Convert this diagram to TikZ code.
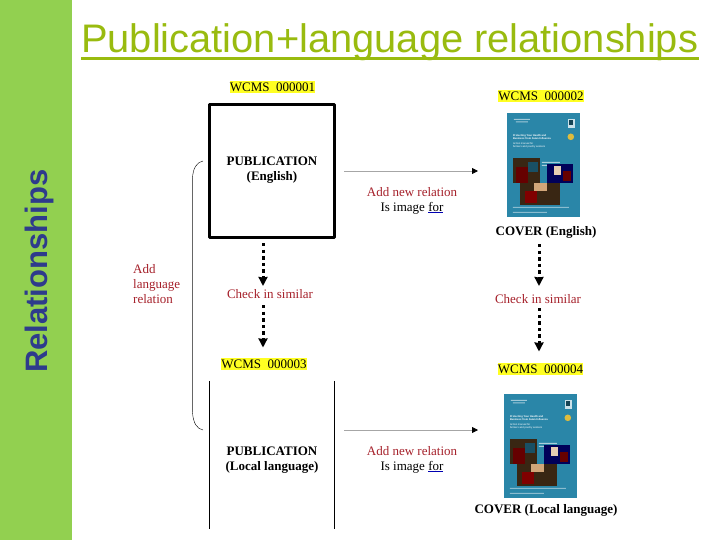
\documentclass[tikz,border=0pt]{standalone}
\usepackage{fontspec}
\setmainfont{Liberation Serif}
\newfontfamily\arialfont{Liberation Sans}
\usetikzlibrary{arrows.meta}
\definecolor{barcol}{HTML}{92D050}
\definecolor{titlecol}{HTML}{99BB0F}
\definecolor{sidecol}{HTML}{2E3B8C}
\definecolor{addcol}{HTML}{A5202A}
\definecolor{wcmscol}{HTML}{FFFF22}
\definecolor{coverbg}{HTML}{2A86A8}
\newcommand{\lblfont}{\fontsize{13}{15}\selectfont}
\newcommand{\tinyfont}{\fontsize{2.6}{3}\selectfont}
\tikzset{
	wcms/.style={fill=wcmscol,inner xsep=0.2pt,inner ysep=2pt,font=\lblfont},
	boldlbl/.style={align=center,font=\lblfont\bfseries},
	addlbl/.style={align=center,font=\lblfont,text=addcol},
	simlink/.style={line width=3pt,dash pattern=on 3.3pt off 3.3pt,-{Stealth[length=9pt,width=9pt,inset=0.5pt]}},
	rellink/.style={draw=black!35,line width=0.8pt,-{Triangle[black,length=6pt,width=6pt]}},
	coverart/.pic={
		\fill[coverbg] (0,0) rectangle (73,104);
		\node[text=white,font=\arialfont\tinyfont,anchor=north west,inner sep=0pt,align=left] at (6,22) {\textbf{Protecting Your Health and}\\\textbf{Business from Avian Influenza}};
		\node[text=white,font=\arialfont\tinyfont,anchor=north west,inner sep=0pt,align=left] at (6,30) {Action manual for\\farmers and poultry workers};
		\fill[white!55!coverbg] (7,6) rectangle (23,7) (9,8.5) rectangle (21,9.5);
		\fill[white!75!coverbg] (61,6) rectangle (68,15);
		\fill[coverbg!50!black] (62.5,7.5) rectangle (66.5,12);
		\fill[yellow!45!brown] (64,24) circle(3.3);
		\fill[white!60!coverbg] (35,49) rectangle (53,50) (35,52) rectangle (55,53);
		\fill[black!70!brown] (6,45) rectangle (33,70);
		\fill[red!40!black] (9,54) rectangle (21,70);
		\fill[coverbg!60!black] (21,49) rectangle (31,59);
		\fill[black!65!blue] (40,51) rectangle (66,70);
		\fill[white!60!brown] (47,53) rectangle (54,62);
		\fill[red!40!black] (56,58) rectangle (64,68);
		\fill[black!70!brown] (13,70) rectangle (53,92);
		\fill[brown!70!white] (27,70) rectangle (40,78);
		\fill[red!50!black] (18,78) rectangle (30,90);
		\fill[white!45!coverbg] (6,94) rectangle (62,95) (6,99) rectangle (40,100);
	}
}
\begin{document}
\begin{tikzpicture}[x=1pt,y=-1pt,line join=round,>=stealth]
	\useasboundingbox (0,0) rectangle (720,540);
	\fill[barcol] (0,0) rectangle (72,540);
	%%Title
	\node[rotate=90,anchor=base west,inner sep=0pt,text=sidecol,font=\arialfont\fontsize{31}{34}\selectfont\bfseries] (side) at (47,373) {Relationships};
	\node[text=titlecol,anchor=base west,inner sep=0pt,font=\arialfont\fontsize{39.85}{42}\selectfont] (title) at (81,53) {Publication+language relationships};
	\draw[titlecol,line width=2.2pt] (81,58.5)--(699,58.5);
	%%Publications
	\node[draw,line width=3pt,minimum width=125pt,minimum height=132pt,inner sep=0pt] (puben) at (272,171) {};
	\node[boldlbl] (pubentxt) at (272,170.5) {PUBLICATION\\(English)};
	\node[minimum width=125pt,minimum height=148pt,inner sep=0pt] (publoc) at (272,455) {};
	\node[boldlbl] (publoctxt) at (272,460) {PUBLICATION\\(Local language)};
	\draw[line width=0.9pt] (publoc.north west)--(publoc.south west) (publoc.north east)--(publoc.south east);
	%%Covers
	\node[minimum width=73pt,minimum height=104pt,inner sep=0pt] (coveren) at (543.5,165) {};
	\node[minimum width=73pt,minimum height=104pt,inner sep=0pt] (coverloc) at (540.5,446) {};
	\pic at (coveren.north west) {coverart};
	\pic at (coverloc.north west) {coverart};
	\node[boldlbl] (capen) at (546,232) {COVER (English)};
	\node[boldlbl] (caploc) at (546,510) {COVER (Local language)};
	%%IDs
	\node[wcms] (ida) at (272.5,87) {WCMS\ \ 000001};
	\node[wcms] (idb) at (541,96) {WCMS\ \ 000002};
	\node[wcms] (idc) at (264,364) {WCMS\ \ 000003};
	\node[wcms] (idd) at (540.5,369) {WCMS\ \ 000004};
	%%Labels
	\node[addlbl] (simlft) at (270,294) {Check in similar};
	\node[addlbl] (simrgt) at (538,299) {Check in similar};
	\node[addlbl,align=left,anchor=west,inner sep=0pt] (addlang) at (133,284) {Add\\language\\relation};
	\node[align=center,font=\lblfont] (relen) at (412,200.5) {\textcolor{addcol}{Add new relation}\\Is image {\color{blue!70!black}\underline{\textcolor{black}{for}}}};
	\node[align=center,font=\lblfont] (relloc) at (412,459.5) {\textcolor{addcol}{Add new relation}\\Is image {\color{blue!70!black}\underline{\textcolor{black}{for}}}};
	%%Links
	\draw[simlink] (263,243)--(263,286);
	\draw[simlink] (263,305)--(263,347.5);
	\draw[simlink] (539,244)--(539,286);
	\draw[simlink] (539,308)--(539,351.5);
	\draw[rellink] (puben.east)++(8,0)--(478,171);
	\draw[rellink] (344,430)--(478,430);
	\coordinate (brka) at (203,161);
	\coordinate (brkb) at (203,430);
	\draw[line width=0.4pt] (brka)..controls (197,162) and (193,168)..(192.5,178);
	\draw[line width=0.4pt] (brkb)..controls (197,429) and (193,423)..(192.5,412);
	\draw[black!60,line width=0.8pt] (192.5,178)--(192.5,412);
\end{tikzpicture}
\end{document}
